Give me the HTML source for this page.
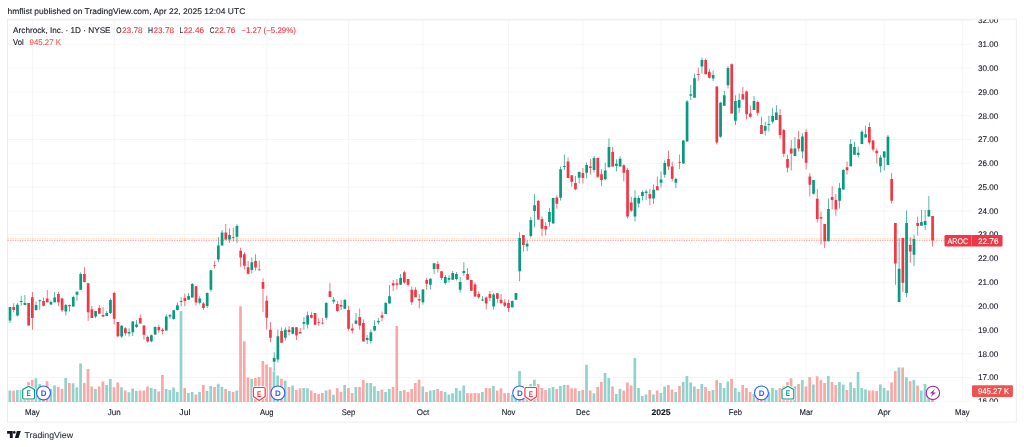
<!DOCTYPE html>
<html><head><meta charset="utf-8"><title>AROC chart</title>
<style>html,body{margin:0;padding:0;background:#fff}body{width:1024px;height:447px;overflow:hidden}</style></head>
<body>
<svg width="1024" height="447" viewBox="0 0 1024 447" style="display:block;will-change:transform">
<rect width="1024" height="447" fill="#fff"/>
<path d="M7.5 401.30H971.4 M7.5 377.50H971.4 M7.5 353.70H971.4 M7.5 329.90H971.4 M7.5 306.10H971.4 M7.5 282.30H971.4 M7.5 258.50H971.4 M7.5 234.70H971.4 M7.5 210.90H971.4 M7.5 187.10H971.4 M7.5 163.30H971.4 M7.5 139.50H971.4 M7.5 115.70H971.4 M7.5 91.90H971.4 M7.5 68.10H971.4 M7.5 44.30H971.4 M7.5 20.50H971.4 M32.35 19.2V402.0 M114.19 19.2V402.0 M184.87 19.2V402.0 M266.71 19.2V402.0 M348.55 19.2V402.0 M422.95 19.2V402.0 M508.51 19.2V402.0 M582.91 19.2V402.0 M661.03 19.2V402.0 M735.43 19.2V402.0 M806.11 19.2V402.0 M884.23 19.2V402.0 M962.35 19.2V402.0" stroke="#f2f2f3" stroke-width="0.8" fill="none"/>
<rect x="7.5" y="19.2" width="1008.75" height="402.90000000000003" fill="none" stroke="#e9e9ea" stroke-width="0.8"/>
<path d="M8.53 390.38h2.7V402.00h-2.7z M15.97 390.00h2.7V402.00h-2.7z M19.69 390.00h2.7V402.00h-2.7z M23.41 389.75h2.7V402.00h-2.7z M34.57 378.25h2.7V402.00h-2.7z M38.29 384.12h2.7V402.00h-2.7z M49.45 389.12h2.7V402.00h-2.7z M53.17 385.38h2.7V402.00h-2.7z M64.33 377.88h2.7V402.00h-2.7z M71.77 383.25h2.7V402.00h-2.7z M75.49 387.25h2.7V402.00h-2.7z M79.21 363.50h2.7V402.00h-2.7z M94.09 389.12h2.7V402.00h-2.7z M105.25 385.12h2.7V402.00h-2.7z M108.97 378.88h2.7V402.00h-2.7z M120.13 387.25h2.7V402.00h-2.7z M127.57 392.25h2.7V402.00h-2.7z M131.29 388.50h2.7V402.00h-2.7z M135.01 391.00h2.7V402.00h-2.7z M149.89 387.88h2.7V402.00h-2.7z M153.61 388.88h2.7V402.00h-2.7z M164.77 389.12h2.7V402.00h-2.7z M168.49 390.00h2.7V402.00h-2.7z M172.21 387.62h2.7V402.00h-2.7z M175.93 392.00h2.7V402.00h-2.7z M179.65 311.00h2.7V402.00h-2.7z M187.09 392.88h2.7V402.00h-2.7z M190.81 391.88h2.7V402.00h-2.7z M198.25 391.88h2.7V402.00h-2.7z M205.69 391.00h2.7V402.00h-2.7z M209.41 386.00h2.7V402.00h-2.7z M216.85 383.75h2.7V402.00h-2.7z M220.57 387.00h2.7V402.00h-2.7z M228.01 391.00h2.7V402.00h-2.7z M235.45 390.38h2.7V402.00h-2.7z M250.33 378.75h2.7V402.00h-2.7z M272.65 371.62h2.7V402.00h-2.7z M276.37 375.38h2.7V402.00h-2.7z M283.81 380.38h2.7V402.00h-2.7z M291.25 385.38h2.7V402.00h-2.7z M302.41 387.88h2.7V402.00h-2.7z M306.13 388.25h2.7V402.00h-2.7z M324.73 390.38h2.7V402.00h-2.7z M332.17 394.75h2.7V402.00h-2.7z M343.33 385.00h2.7V402.00h-2.7z M354.49 387.00h2.7V402.00h-2.7z M365.65 383.12h2.7V402.00h-2.7z M369.37 383.12h2.7V402.00h-2.7z M373.09 386.25h2.7V402.00h-2.7z M376.81 391.00h2.7V402.00h-2.7z M384.25 391.88h2.7V402.00h-2.7z M387.97 388.88h2.7V402.00h-2.7z M399.13 391.00h2.7V402.00h-2.7z M421.45 386.38h2.7V402.00h-2.7z M428.89 390.38h2.7V402.00h-2.7z M432.61 390.00h2.7V402.00h-2.7z M443.77 392.00h2.7V402.00h-2.7z M447.49 394.50h2.7V402.00h-2.7z M451.21 393.25h2.7V402.00h-2.7z M454.93 387.88h2.7V402.00h-2.7z M458.65 390.75h2.7V402.00h-2.7z M462.37 385.38h2.7V402.00h-2.7z M480.97 392.00h2.7V402.00h-2.7z M492.13 386.00h2.7V402.00h-2.7z M510.73 394.75h2.7V402.00h-2.7z M514.45 393.50h2.7V402.00h-2.7z M518.17 371.00h2.7V402.00h-2.7z M525.61 389.75h2.7V402.00h-2.7z M529.33 384.12h2.7V402.00h-2.7z M533.05 379.75h2.7V402.00h-2.7z M547.93 388.25h2.7V402.00h-2.7z M551.65 387.00h2.7V402.00h-2.7z M559.09 386.00h2.7V402.00h-2.7z M562.81 385.00h2.7V402.00h-2.7z M577.69 391.00h2.7V402.00h-2.7z M585.13 364.75h2.7V402.00h-2.7z M592.57 393.25h2.7V402.00h-2.7z M603.73 372.88h2.7V402.00h-2.7z M607.45 377.88h2.7V402.00h-2.7z M614.89 394.12h2.7V402.00h-2.7z M618.61 389.12h2.7V402.00h-2.7z M633.49 357.88h2.7V402.00h-2.7z M637.21 387.88h2.7V402.00h-2.7z M640.93 396.00h2.7V402.00h-2.7z M644.65 394.38h2.7V402.00h-2.7z M652.09 394.50h2.7V402.00h-2.7z M659.53 392.88h2.7V402.00h-2.7z M663.25 386.38h2.7V402.00h-2.7z M674.41 391.88h2.7V402.00h-2.7z M681.85 382.00h2.7V402.00h-2.7z M685.57 376.00h2.7V402.00h-2.7z M689.29 382.62h2.7V402.00h-2.7z M693.01 386.62h2.7V402.00h-2.7z M700.45 384.12h2.7V402.00h-2.7z M711.61 390.00h2.7V402.00h-2.7z M719.05 383.12h2.7V402.00h-2.7z M722.77 387.88h2.7V402.00h-2.7z M726.49 381.62h2.7V402.00h-2.7z M733.93 388.12h2.7V402.00h-2.7z M737.65 391.88h2.7V402.00h-2.7z M752.53 394.12h2.7V402.00h-2.7z M763.69 389.75h2.7V402.00h-2.7z M767.41 392.25h2.7V402.00h-2.7z M771.13 387.88h2.7V402.00h-2.7z M774.85 390.00h2.7V402.00h-2.7z M793.45 386.62h2.7V402.00h-2.7z M800.89 380.00h2.7V402.00h-2.7z M812.05 384.38h2.7V402.00h-2.7z M826.93 376.00h2.7V402.00h-2.7z M838.09 382.00h2.7V402.00h-2.7z M841.81 384.38h2.7V402.00h-2.7z M849.25 382.25h2.7V402.00h-2.7z M852.97 387.88h2.7V402.00h-2.7z M856.69 372.00h2.7V402.00h-2.7z M860.41 387.88h2.7V402.00h-2.7z M864.13 389.38h2.7V402.00h-2.7z M879.01 384.38h2.7V402.00h-2.7z M882.73 387.88h2.7V402.00h-2.7z M886.45 390.62h2.7V402.00h-2.7z M897.61 367.50h2.7V402.00h-2.7z M905.05 377.25h2.7V402.00h-2.7z M912.49 380.00h2.7V402.00h-2.7z M919.93 390.62h2.7V402.00h-2.7z M923.65 383.88h2.7V402.00h-2.7z M927.37 392.88h2.7V402.00h-2.7z" fill="#92d2cc"/>
<path d="M12.25 390.75h2.7V402.00h-2.7z M27.13 382.25h2.7V402.00h-2.7z M30.85 380.00h2.7V402.00h-2.7z M42.01 388.50h2.7V402.00h-2.7z M45.73 381.25h2.7V402.00h-2.7z M56.89 387.00h2.7V402.00h-2.7z M60.61 389.12h2.7V402.00h-2.7z M68.05 382.88h2.7V402.00h-2.7z M82.93 382.88h2.7V402.00h-2.7z M86.65 369.12h2.7V402.00h-2.7z M90.37 386.62h2.7V402.00h-2.7z M97.81 386.62h2.7V402.00h-2.7z M101.53 381.62h2.7V402.00h-2.7z M112.69 387.25h2.7V402.00h-2.7z M116.41 382.62h2.7V402.00h-2.7z M123.85 390.62h2.7V402.00h-2.7z M138.73 390.38h2.7V402.00h-2.7z M142.45 390.62h2.7V402.00h-2.7z M146.17 386.38h2.7V402.00h-2.7z M157.33 391.62h2.7V402.00h-2.7z M161.05 375.00h2.7V402.00h-2.7z M183.37 388.12h2.7V402.00h-2.7z M194.53 394.50h2.7V402.00h-2.7z M201.97 385.00h2.7V402.00h-2.7z M213.13 387.00h2.7V402.00h-2.7z M224.29 389.12h2.7V402.00h-2.7z M231.73 392.00h2.7V402.00h-2.7z M239.17 306.25h2.7V402.00h-2.7z M242.89 341.25h2.7V402.00h-2.7z M246.61 377.62h2.7V402.00h-2.7z M254.05 378.12h2.7V402.00h-2.7z M257.77 377.00h2.7V402.00h-2.7z M261.49 361.00h2.7V402.00h-2.7z M265.21 364.50h2.7V402.00h-2.7z M268.93 367.25h2.7V402.00h-2.7z M280.09 378.75h2.7V402.00h-2.7z M287.53 387.00h2.7V402.00h-2.7z M294.97 390.00h2.7V402.00h-2.7z M298.69 388.25h2.7V402.00h-2.7z M309.85 390.62h2.7V402.00h-2.7z M313.57 392.88h2.7V402.00h-2.7z M317.29 394.12h2.7V402.00h-2.7z M321.01 392.88h2.7V402.00h-2.7z M328.45 389.38h2.7V402.00h-2.7z M335.89 388.25h2.7V402.00h-2.7z M339.61 391.88h2.7V402.00h-2.7z M347.05 387.88h2.7V402.00h-2.7z M350.77 392.88h2.7V402.00h-2.7z M358.21 387.00h2.7V402.00h-2.7z M361.93 380.00h2.7V402.00h-2.7z M380.53 389.38h2.7V402.00h-2.7z M391.69 387.00h2.7V402.00h-2.7z M395.41 326.00h2.7V402.00h-2.7z M402.85 390.00h2.7V402.00h-2.7z M406.57 391.88h2.7V402.00h-2.7z M410.29 388.88h2.7V402.00h-2.7z M414.01 383.12h2.7V402.00h-2.7z M417.73 379.75h2.7V402.00h-2.7z M425.17 391.88h2.7V402.00h-2.7z M436.33 388.88h2.7V402.00h-2.7z M440.05 391.00h2.7V402.00h-2.7z M466.09 392.88h2.7V402.00h-2.7z M469.81 393.25h2.7V402.00h-2.7z M473.53 392.88h2.7V402.00h-2.7z M477.25 393.25h2.7V402.00h-2.7z M484.69 387.88h2.7V402.00h-2.7z M488.41 388.25h2.7V402.00h-2.7z M495.85 390.62h2.7V402.00h-2.7z M499.57 388.25h2.7V402.00h-2.7z M503.29 393.25h2.7V402.00h-2.7z M507.01 392.88h2.7V402.00h-2.7z M521.89 387.25h2.7V402.00h-2.7z M536.77 384.12h2.7V402.00h-2.7z M540.49 387.88h2.7V402.00h-2.7z M544.21 390.00h2.7V402.00h-2.7z M555.37 388.88h2.7V402.00h-2.7z M566.53 385.00h2.7V402.00h-2.7z M570.25 388.25h2.7V402.00h-2.7z M573.97 388.25h2.7V402.00h-2.7z M581.41 390.00h2.7V402.00h-2.7z M588.85 390.38h2.7V402.00h-2.7z M596.29 387.00h2.7V402.00h-2.7z M600.01 382.00h2.7V402.00h-2.7z M611.17 386.38h2.7V402.00h-2.7z M622.33 390.62h2.7V402.00h-2.7z M626.05 382.62h2.7V402.00h-2.7z M629.77 385.38h2.7V402.00h-2.7z M648.37 390.00h2.7V402.00h-2.7z M655.81 390.62h2.7V402.00h-2.7z M666.97 385.00h2.7V402.00h-2.7z M670.69 389.38h2.7V402.00h-2.7z M678.13 386.00h2.7V402.00h-2.7z M696.73 388.88h2.7V402.00h-2.7z M704.17 387.00h2.7V402.00h-2.7z M707.89 391.00h2.7V402.00h-2.7z M715.33 380.12h2.7V402.00h-2.7z M730.21 378.75h2.7V402.00h-2.7z M741.37 385.00h2.7V402.00h-2.7z M745.09 387.88h2.7V402.00h-2.7z M748.81 392.00h2.7V402.00h-2.7z M756.25 391.00h2.7V402.00h-2.7z M759.97 388.50h2.7V402.00h-2.7z M778.57 387.88h2.7V402.00h-2.7z M782.29 386.25h2.7V402.00h-2.7z M786.01 382.25h2.7V402.00h-2.7z M789.73 378.25h2.7V402.00h-2.7z M797.17 383.88h2.7V402.00h-2.7z M804.61 386.62h2.7V402.00h-2.7z M808.33 377.00h2.7V402.00h-2.7z M815.77 376.25h2.7V402.00h-2.7z M819.49 380.00h2.7V402.00h-2.7z M823.21 382.88h2.7V402.00h-2.7z M830.65 382.00h2.7V402.00h-2.7z M834.37 385.12h2.7V402.00h-2.7z M845.53 390.00h2.7V402.00h-2.7z M867.85 390.62h2.7V402.00h-2.7z M871.57 390.38h2.7V402.00h-2.7z M875.29 391.00h2.7V402.00h-2.7z M890.17 382.62h2.7V402.00h-2.7z M893.89 371.00h2.7V402.00h-2.7z M901.33 367.50h2.7V402.00h-2.7z M908.77 381.25h2.7V402.00h-2.7z M916.21 385.38h2.7V402.00h-2.7z M931.09 391.00h2.7V402.00h-2.7z" fill="#f7a9a7"/>
<path d="M7.5 238.9H971.4" stroke="#fb8c00" stroke-width="1.7" stroke-dasharray="1.55 0.9" opacity="0.24" fill="none"/>
<path d="M7.5 240.45H971.4" stroke="#f23645" stroke-width="1.1" stroke-dasharray="1.3 1.15" opacity="0.42" fill="none"/>
<path d="M9.63 307.00h0.8V322.90h-0.8z M17.07 302.90h0.8V316.60h-0.8z M20.79 295.75h0.8V305.75h-0.8z M24.51 295.10h0.8V305.10h-0.8z M35.67 301.40h0.8V310.75h-0.8z M39.39 299.50h0.8V310.10h-0.8z M50.55 300.40h0.8V304.90h-0.8z M54.27 292.00h0.8V302.60h-0.8z M65.43 304.00h0.8V315.40h-0.8z M72.87 295.75h0.8V306.40h-0.8z M76.59 291.40h0.8V300.75h-0.8z M80.31 272.25h0.8V289.75h-0.8z M95.19 310.75h0.8V318.25h-0.8z M106.35 311.00h0.8V316.25h-0.8z M110.07 298.25h0.8V314.10h-0.8z M121.23 325.00h0.8V337.90h-0.8z M128.67 328.25h0.8V336.60h-0.8z M132.39 321.00h0.8V336.00h-0.8z M136.11 320.00h0.8V328.10h-0.8z M150.99 334.40h0.8V342.25h-0.8z M154.71 326.25h0.8V334.75h-0.8z M165.87 314.40h0.8V330.60h-0.8z M169.59 313.75h0.8V318.75h-0.8z M173.31 310.00h0.8V319.75h-0.8z M177.03 302.50h0.8V310.60h-0.8z M180.75 297.25h0.8V306.25h-0.8z M188.19 293.10h0.8V300.00h-0.8z M191.91 283.10h0.8V297.50h-0.8z M199.35 296.25h0.8V304.40h-0.8z M206.79 292.50h0.8V307.90h-0.8z M210.51 270.00h0.8V291.50h-0.8z M217.95 237.10h0.8V262.10h-0.8z M221.67 230.00h0.8V245.50h-0.8z M229.11 228.40h0.8V242.75h-0.8z M236.55 224.25h0.8V243.00h-0.8z M251.43 257.30h0.8V273.50h-0.8z M273.75 352.30h0.8V371.00h-0.8z M277.47 329.40h0.8V362.50h-0.8z M284.91 327.25h0.8V340.60h-0.8z M292.35 327.25h0.8V334.40h-0.8z M303.51 317.25h0.8V329.40h-0.8z M307.23 311.50h0.8V328.50h-0.8z M325.83 302.00h0.8V319.40h-0.8z M333.27 297.00h0.8V303.50h-0.8z M344.43 299.50h0.8V309.10h-0.8z M355.59 313.10h0.8V324.40h-0.8z M366.75 335.00h0.8V344.00h-0.8z M370.47 329.40h0.8V343.50h-0.8z M374.19 320.25h0.8V331.25h-0.8z M377.91 318.10h0.8V324.40h-0.8z M385.35 302.00h0.8V314.00h-0.8z M389.07 285.00h0.8V303.50h-0.8z M400.23 274.10h0.8V284.75h-0.8z M422.55 289.10h0.8V304.50h-0.8z M429.99 278.25h0.8V289.50h-0.8z M433.71 263.25h0.8V274.10h-0.8z M444.87 275.00h0.8V284.75h-0.8z M448.59 275.40h0.8V282.50h-0.8z M452.31 271.00h0.8V279.75h-0.8z M456.03 272.00h0.8V280.40h-0.8z M459.75 277.25h0.8V292.60h-0.8z M463.47 262.25h0.8V275.75h-0.8z M482.07 296.25h0.8V301.00h-0.8z M493.23 292.90h0.8V309.50h-0.8z M511.83 300.40h0.8V307.50h-0.8z M515.55 292.90h0.8V299.75h-0.8z M519.27 232.25h0.8V281.25h-0.8z M526.71 240.60h0.8V251.00h-0.8z M530.43 216.90h0.8V237.50h-0.8z M534.15 194.00h0.8V227.25h-0.8z M549.03 208.10h0.8V226.60h-0.8z M552.75 197.75h0.8V223.40h-0.8z M560.19 166.50h0.8V200.50h-0.8z M563.91 154.50h0.8V170.25h-0.8z M578.79 171.50h0.8V183.60h-0.8z M586.23 162.40h0.8V178.60h-0.8z M593.67 156.10h0.8V172.40h-0.8z M604.83 162.75h0.8V180.50h-0.8z M608.55 138.50h0.8V167.30h-0.8z M615.99 159.30h0.8V171.60h-0.8z M619.71 156.20h0.8V166.60h-0.8z M634.59 190.25h0.8V221.50h-0.8z M638.31 195.50h0.8V207.50h-0.8z M642.03 190.60h0.8V200.60h-0.8z M645.75 189.40h0.8V200.00h-0.8z M653.19 184.40h0.8V203.75h-0.8z M660.63 171.50h0.8V187.50h-0.8z M664.35 160.25h0.8V177.75h-0.8z M675.51 177.75h0.8V188.10h-0.8z M682.95 140.00h0.8V163.50h-0.8z M686.67 100.00h0.8V141.60h-0.8z M690.39 84.90h0.8V99.90h-0.8z M694.11 73.60h0.8V97.75h-0.8z M701.55 57.40h0.8V73.60h-0.8z M712.71 70.50h0.8V81.10h-0.8z M720.15 101.75h0.8V137.75h-0.8z M723.87 91.10h0.8V105.75h-0.8z M727.59 66.10h0.8V88.60h-0.8z M735.03 95.25h0.8V124.90h-0.8z M738.75 93.60h0.8V112.75h-0.8z M753.63 96.10h0.8V109.90h-0.8z M764.79 121.75h0.8V135.50h-0.8z M768.51 116.10h0.8V131.50h-0.8z M772.23 108.25h0.8V123.60h-0.8z M775.95 105.25h0.8V119.90h-0.8z M794.55 137.00h0.8V156.00h-0.8z M801.99 133.25h0.8V158.50h-0.8z M813.15 180.00h0.8V194.40h-0.8z M828.03 198.50h0.8V241.25h-0.8z M839.19 183.10h0.8V208.50h-0.8z M842.91 169.00h0.8V189.40h-0.8z M850.35 139.25h0.8V166.25h-0.8z M854.07 141.75h0.8V154.75h-0.8z M857.79 146.75h0.8V157.50h-0.8z M861.51 130.25h0.8V144.00h-0.8z M865.23 125.75h0.8V137.40h-0.8z M880.11 155.00h0.8V172.50h-0.8z M883.83 151.00h0.8V170.60h-0.8z M887.55 134.90h0.8V165.00h-0.8z M898.71 237.90h0.8V302.25h-0.8z M906.15 210.40h0.8V297.25h-0.8z M913.59 234.75h0.8V266.25h-0.8z M921.03 210.00h0.8V225.75h-0.8z M924.75 210.00h0.8V230.00h-0.8z M928.47 196.00h0.8V216.60h-0.8z" fill="#089981" opacity="0.85"/>
<path d="M8.68 307.00h2.7V320.40h-2.7z M16.12 304.75h2.7V315.40h-2.7z M19.84 301.00h2.7V302.00h-2.7z M23.56 303.00h2.7V305.10h-2.7z M34.72 305.10h2.7V310.10h-2.7z M38.44 300.25h2.7V301.15h-2.7z M49.60 302.00h2.7V304.60h-2.7z M53.32 297.40h2.7V302.25h-2.7z M64.48 305.10h2.7V311.50h-2.7z M71.92 297.00h2.7V306.40h-2.7z M75.64 291.75h2.7V294.75h-2.7z M79.36 273.90h2.7V289.75h-2.7z M94.24 311.00h2.7V316.60h-2.7z M105.40 312.90h2.7V316.00h-2.7z M109.12 300.00h2.7V312.90h-2.7z M120.28 325.75h2.7V336.60h-2.7z M127.72 332.00h2.7V333.50h-2.7z M131.44 321.60h2.7V332.25h-2.7z M135.16 324.40h2.7V326.90h-2.7z M150.04 335.25h2.7V341.25h-2.7z M153.76 327.10h2.7V334.40h-2.7z M164.92 316.50h2.7V330.60h-2.7z M168.64 315.00h2.7V316.50h-2.7z M172.36 310.25h2.7V319.00h-2.7z M176.08 305.25h2.7V310.00h-2.7z M179.80 301.00h2.7V301.90h-2.7z M187.24 296.00h2.7V299.75h-2.7z M190.96 284.00h2.7V297.50h-2.7z M198.40 298.50h2.7V302.75h-2.7z M205.84 293.10h2.7V306.00h-2.7z M209.56 270.25h2.7V289.75h-2.7z M217.00 245.50h2.7V259.60h-2.7z M220.72 232.50h2.7V245.50h-2.7z M228.16 235.00h2.7V239.60h-2.7z M235.60 225.90h2.7V236.75h-2.7z M250.48 262.20h2.7V270.00h-2.7z M272.80 357.90h2.7V361.80h-2.7z M276.52 336.25h2.7V359.60h-2.7z M283.96 329.75h2.7V337.75h-2.7z M291.40 327.25h2.7V333.75h-2.7z M302.56 321.90h2.7V323.75h-2.7z M306.28 315.25h2.7V324.40h-2.7z M324.88 302.90h2.7V317.75h-2.7z M332.32 299.75h2.7V301.60h-2.7z M343.48 299.75h2.7V308.75h-2.7z M354.64 320.60h2.7V323.75h-2.7z M365.80 338.10h2.7V340.00h-2.7z M369.52 332.25h2.7V341.00h-2.7z M373.24 326.00h2.7V330.60h-2.7z M376.96 321.00h2.7V322.25h-2.7z M384.40 302.90h2.7V314.00h-2.7z M388.12 296.25h2.7V303.50h-2.7z M399.28 277.90h2.7V284.75h-2.7z M421.60 289.50h2.7V302.25h-2.7z M429.04 278.75h2.7V284.75h-2.7z M432.76 263.25h2.7V268.90h-2.7z M443.92 277.00h2.7V282.90h-2.7z M447.64 277.90h2.7V279.75h-2.7z M451.36 272.90h2.7V279.75h-2.7z M455.08 274.10h2.7V278.90h-2.7z M458.80 282.00h2.7V289.75h-2.7z M462.52 271.00h2.7V272.90h-2.7z M481.12 299.50h2.7V300.60h-2.7z M492.28 294.50h2.7V306.40h-2.7z M510.88 301.00h2.7V307.25h-2.7z M514.60 292.90h2.7V299.75h-2.7z M518.32 238.10h2.7V271.25h-2.7z M525.76 243.75h2.7V246.50h-2.7z M529.48 220.00h2.7V235.90h-2.7z M533.20 205.25h2.7V211.00h-2.7z M548.08 211.90h2.7V221.90h-2.7z M551.80 198.00h2.7V223.40h-2.7z M559.24 169.25h2.7V197.75h-2.7z M562.96 166.10h2.7V167.00h-2.7z M577.84 172.00h2.7V177.75h-2.7z M585.28 164.90h2.7V172.75h-2.7z M592.72 158.00h2.7V169.90h-2.7z M603.88 170.50h2.7V179.25h-2.7z M607.60 146.90h2.7V167.30h-2.7z M615.04 163.70h2.7V166.00h-2.7z M618.76 158.70h2.7V166.60h-2.7z M633.64 197.75h2.7V216.50h-2.7z M637.36 198.00h2.7V203.50h-2.7z M641.08 191.90h2.7V196.00h-2.7z M644.80 191.60h2.7V193.10h-2.7z M652.24 189.75h2.7V198.50h-2.7z M659.68 179.40h2.7V182.75h-2.7z M663.40 163.10h2.7V174.75h-2.7z M674.56 179.00h2.7V182.75h-2.7z M682.00 140.50h2.7V163.50h-2.7z M685.72 101.50h2.7V141.60h-2.7z M689.44 94.25h2.7V95.75h-2.7z M693.16 78.25h2.7V97.75h-2.7z M700.60 59.90h2.7V66.50h-2.7z M711.76 74.90h2.7V78.60h-2.7z M719.20 102.75h2.7V136.75h-2.7z M722.92 95.25h2.7V105.75h-2.7z M726.64 68.00h2.7V85.25h-2.7z M734.08 101.10h2.7V120.75h-2.7z M737.80 99.90h2.7V107.75h-2.7z M752.68 101.10h2.7V109.90h-2.7z M763.84 126.10h2.7V130.75h-2.7z M767.56 124.00h2.7V124.90h-2.7z M771.28 116.10h2.7V121.75h-2.7z M775.00 112.40h2.7V119.90h-2.7z M793.60 148.40h2.7V156.00h-2.7z M801.04 136.50h2.7V151.50h-2.7z M812.20 180.00h2.7V193.75h-2.7z M827.08 209.10h2.7V241.25h-2.7z M838.24 188.10h2.7V200.70h-2.7z M841.96 170.00h2.7V189.40h-2.7z M849.40 144.00h2.7V166.25h-2.7z M853.12 147.00h2.7V154.75h-2.7z M856.84 152.75h2.7V155.00h-2.7z M860.56 131.75h2.7V144.00h-2.7z M864.28 134.25h2.7V137.40h-2.7z M879.16 157.50h2.7V166.25h-2.7z M882.88 151.60h2.7V157.50h-2.7z M886.60 136.75h2.7V165.00h-2.7z M897.76 268.75h2.7V301.90h-2.7z M905.20 222.90h2.7V293.10h-2.7z M912.64 239.10h2.7V254.75h-2.7z M920.08 221.90h2.7V225.75h-2.7z M923.80 221.00h2.7V225.00h-2.7z M927.52 210.00h2.7V216.60h-2.7z" fill="#089981"/>
<path d="M13.35 303.20h0.8V312.50h-0.8z M28.23 303.00h0.8V325.60h-0.8z M31.95 292.00h0.8V329.75h-0.8z M43.11 297.60h0.8V306.40h-0.8z M46.83 290.10h0.8V302.60h-0.8z M57.99 291.75h0.8V305.75h-0.8z M61.71 297.60h0.8V312.00h-0.8z M69.15 304.50h0.8V311.50h-0.8z M84.03 267.25h0.8V282.25h-0.8z M87.75 283.25h0.8V321.00h-0.8z M91.47 306.00h0.8V317.90h-0.8z M98.91 305.00h0.8V313.75h-0.8z M102.63 307.00h0.8V317.00h-0.8z M113.79 291.75h0.8V324.50h-0.8z M117.51 322.00h0.8V337.50h-0.8z M124.95 327.25h0.8V335.75h-0.8z M139.83 314.40h0.8V323.50h-0.8z M143.55 325.00h0.8V339.40h-0.8z M147.27 335.60h0.8V342.50h-0.8z M158.43 324.75h0.8V332.50h-0.8z M162.15 327.90h0.8V334.40h-0.8z M184.47 293.50h0.8V306.25h-0.8z M195.63 285.90h0.8V305.60h-0.8z M203.07 302.10h0.8V310.00h-0.8z M214.23 260.70h0.8V268.50h-0.8z M225.39 224.00h0.8V240.25h-0.8z M232.83 227.75h0.8V241.75h-0.8z M240.27 247.75h0.8V266.70h-0.8z M243.99 252.20h0.8V269.40h-0.8z M247.71 261.10h0.8V274.40h-0.8z M255.15 254.30h0.8V270.60h-0.8z M258.87 260.50h0.8V270.60h-0.8z M262.59 278.25h0.8V312.00h-0.8z M266.31 295.75h0.8V329.40h-0.8z M270.03 321.90h0.8V342.25h-0.8z M281.19 327.50h0.8V342.75h-0.8z M288.63 326.25h0.8V335.60h-0.8z M296.07 326.90h0.8V340.00h-0.8z M299.79 328.10h0.8V333.75h-0.8z M310.95 312.25h0.8V318.50h-0.8z M314.67 313.10h0.8V325.25h-0.8z M318.39 318.50h0.8V326.00h-0.8z M322.11 318.10h0.8V324.40h-0.8z M329.55 282.90h0.8V297.00h-0.8z M336.99 301.00h0.8V311.80h-0.8z M340.71 299.75h0.8V310.00h-0.8z M348.15 305.75h0.8V330.60h-0.8z M351.87 323.50h0.8V333.50h-0.8z M359.31 308.50h0.8V329.75h-0.8z M363.03 319.40h0.8V341.50h-0.8z M381.63 311.50h0.8V321.50h-0.8z M392.79 280.00h0.8V291.00h-0.8z M396.51 279.10h0.8V289.50h-0.8z M403.95 270.40h0.8V283.75h-0.8z M407.67 278.90h0.8V286.60h-0.8z M411.39 286.60h0.8V305.00h-0.8z M415.11 287.25h0.8V297.25h-0.8z M418.83 294.10h0.8V308.50h-0.8z M426.27 277.90h0.8V289.50h-0.8z M437.43 261.25h0.8V272.50h-0.8z M441.15 271.25h0.8V280.10h-0.8z M467.19 268.10h0.8V279.75h-0.8z M470.91 280.00h0.8V290.75h-0.8z M474.63 282.50h0.8V296.60h-0.8z M478.35 291.60h0.8V298.75h-0.8z M485.79 296.60h0.8V309.50h-0.8z M489.51 291.00h0.8V301.00h-0.8z M496.95 293.25h0.8V302.90h-0.8z M500.67 294.10h0.8V304.10h-0.8z M504.39 299.10h0.8V307.25h-0.8z M508.11 299.75h0.8V311.90h-0.8z M522.99 235.00h0.8V251.50h-0.8z M537.87 199.90h0.8V220.00h-0.8z M541.59 216.50h0.8V236.25h-0.8z M545.31 222.25h0.8V235.60h-0.8z M556.47 195.25h0.8V208.75h-0.8z M567.63 157.40h0.8V178.00h-0.8z M571.35 175.25h0.8V186.50h-0.8z M575.07 176.10h0.8V190.25h-0.8z M582.51 168.00h0.8V183.60h-0.8z M589.95 159.00h0.8V174.50h-0.8z M597.39 157.40h0.8V178.00h-0.8z M601.11 169.00h0.8V185.90h-0.8z M612.27 146.90h0.8V166.60h-0.8z M623.43 164.25h0.8V181.50h-0.8z M627.15 168.00h0.8V218.50h-0.8z M630.87 197.00h0.8V211.90h-0.8z M649.47 189.00h0.8V205.00h-0.8z M656.91 176.50h0.8V190.25h-0.8z M668.07 150.60h0.8V170.00h-0.8z M671.79 161.40h0.8V181.50h-0.8z M679.23 154.40h0.8V169.00h-0.8z M697.83 67.75h0.8V80.75h-0.8z M705.27 58.60h0.8V74.25h-0.8z M708.99 69.00h0.8V78.60h-0.8z M716.43 86.50h0.8V144.50h-0.8z M731.31 63.60h0.8V113.60h-0.8z M742.47 87.00h0.8V99.40h-0.8z M746.19 90.50h0.8V119.50h-0.8z M749.91 105.50h0.8V118.25h-0.8z M757.35 100.40h0.8V115.75h-0.8z M761.07 116.75h0.8V134.00h-0.8z M779.67 109.00h0.8V138.60h-0.8z M783.39 129.00h0.8V156.90h-0.8z M787.11 154.75h0.8V172.50h-0.8z M790.83 139.90h0.8V170.60h-0.8z M798.27 131.10h0.8V151.50h-0.8z M805.71 129.25h0.8V169.40h-0.8z M809.43 173.10h0.8V196.50h-0.8z M816.87 189.00h0.8V222.50h-0.8z M820.59 211.60h0.8V244.75h-0.8z M824.31 224.10h0.8V247.90h-0.8z M831.75 186.25h0.8V209.50h-0.8z M835.47 194.00h0.8V215.75h-0.8z M846.63 161.50h0.8V174.40h-0.8z M868.95 122.40h0.8V144.50h-0.8z M872.67 139.90h0.8V151.50h-0.8z M876.39 148.60h0.8V163.50h-0.8z M891.27 173.10h0.8V203.75h-0.8z M894.99 222.90h0.8V284.75h-0.8z M902.43 237.90h0.8V291.90h-0.8z M909.87 237.25h0.8V262.75h-0.8z M917.31 216.60h0.8V235.40h-0.8z M932.19 216.00h0.8V246.60h-0.8z" fill="#f23645" opacity="0.85"/>
<path d="M12.40 307.00h2.7V310.10h-2.7z M27.28 303.00h2.7V325.60h-2.7z M31.00 297.25h2.7V317.90h-2.7z M42.16 301.00h2.7V305.75h-2.7z M45.88 298.60h2.7V302.25h-2.7z M57.04 294.10h2.7V302.25h-2.7z M60.76 298.40h2.7V310.25h-2.7z M68.20 305.10h2.7V306.30h-2.7z M83.08 274.10h2.7V282.00h-2.7z M86.80 283.25h2.7V312.25h-2.7z M90.52 309.20h2.7V317.90h-2.7z M97.96 308.10h2.7V313.75h-2.7z M101.68 315.00h2.7V316.60h-2.7z M112.84 293.00h2.7V318.75h-2.7z M116.56 322.00h2.7V336.25h-2.7z M124.00 328.25h2.7V333.25h-2.7z M138.88 318.10h2.7V323.50h-2.7z M142.60 325.60h2.7V334.75h-2.7z M146.32 336.90h2.7V341.50h-2.7z M157.48 326.90h2.7V330.25h-2.7z M161.20 329.75h2.7V331.00h-2.7z M183.52 298.10h2.7V301.00h-2.7z M194.68 286.25h2.7V302.60h-2.7z M202.12 303.50h2.7V307.90h-2.7z M213.28 264.93h2.7V265.82h-2.7z M224.44 232.50h2.7V239.60h-2.7z M231.88 236.88h2.7V237.77h-2.7z M239.32 250.80h2.7V257.60h-2.7z M243.04 254.30h2.7V265.75h-2.7z M246.76 267.25h2.7V273.75h-2.7z M254.20 261.00h2.7V267.50h-2.7z M257.92 269.38h2.7V270.27h-2.7z M261.64 282.00h2.7V288.75h-2.7z M265.36 300.75h2.7V317.75h-2.7z M269.08 329.75h2.7V337.75h-2.7z M280.24 331.00h2.7V342.75h-2.7z M287.68 329.75h2.7V331.90h-2.7z M295.12 327.25h2.7V335.60h-2.7z M298.84 331.90h2.7V333.40h-2.7z M310.00 315.00h2.7V317.75h-2.7z M313.72 313.10h2.7V324.75h-2.7z M317.44 322.23h2.7V323.12h-2.7z M321.16 322.68h2.7V323.57h-2.7z M328.60 291.25h2.7V297.00h-2.7z M336.04 304.10h2.7V311.00h-2.7z M339.76 305.00h2.7V306.40h-2.7z M347.20 310.00h2.7V328.75h-2.7z M350.92 328.50h2.7V330.60h-2.7z M358.36 316.90h2.7V325.60h-2.7z M362.08 323.10h2.7V341.50h-2.7z M380.68 315.25h2.7V317.75h-2.7z M391.84 283.25h2.7V285.40h-2.7z M395.56 283.25h2.7V284.75h-2.7z M403.00 272.25h2.7V282.50h-2.7z M406.72 278.90h2.7V284.75h-2.7z M410.44 289.75h2.7V302.25h-2.7z M414.16 289.75h2.7V297.25h-2.7z M417.88 299.10h2.7V300.60h-2.7z M425.32 280.10h2.7V283.75h-2.7z M436.48 263.90h2.7V268.90h-2.7z M440.20 271.25h2.7V277.90h-2.7z M466.24 274.10h2.7V279.75h-2.7z M469.96 280.00h2.7V290.75h-2.7z M473.68 284.50h2.7V296.60h-2.7z M477.40 293.90h2.7V297.25h-2.7z M484.84 297.60h2.7V303.50h-2.7z M488.56 293.90h2.7V297.90h-2.7z M496.00 293.25h2.7V298.75h-2.7z M499.72 299.75h2.7V302.90h-2.7z M503.44 302.50h2.7V305.75h-2.7z M507.16 302.90h2.7V307.90h-2.7z M522.04 235.00h2.7V245.00h-2.7z M536.92 201.10h2.7V219.40h-2.7z M540.64 219.00h2.7V228.75h-2.7z M544.36 226.00h2.7V229.60h-2.7z M555.52 197.40h2.7V203.75h-2.7z M566.68 161.50h2.7V178.00h-2.7z M570.40 175.25h2.7V181.75h-2.7z M574.12 183.00h2.7V189.25h-2.7z M581.56 173.00h2.7V178.00h-2.7z M589.00 166.50h2.7V168.00h-2.7z M596.44 158.00h2.7V176.75h-2.7z M600.16 174.25h2.7V179.90h-2.7z M611.32 151.90h2.7V166.60h-2.7z M622.48 165.25h2.7V172.75h-2.7z M626.20 169.90h2.7V216.50h-2.7z M629.92 202.50h2.7V210.60h-2.7z M648.52 194.00h2.7V198.50h-2.7z M655.96 186.25h2.7V190.25h-2.7z M667.12 158.90h2.7V166.50h-2.7z M670.84 166.40h2.7V178.75h-2.7z M678.28 161.88h2.7V162.77h-2.7z M696.88 73.90h2.7V74.90h-2.7z M704.32 59.90h2.7V74.25h-2.7z M708.04 71.75h2.7V77.75h-2.7z M715.48 86.50h2.7V142.40h-2.7z M730.36 64.25h2.7V113.60h-2.7z M741.52 94.25h2.7V99.40h-2.7z M745.24 91.50h2.7V114.25h-2.7z M748.96 113.60h2.7V116.75h-2.7z M756.40 102.00h2.7V112.75h-2.7z M760.12 124.90h2.7V134.00h-2.7z M778.72 114.90h2.7V134.90h-2.7z M782.44 129.90h2.7V153.75h-2.7z M786.16 159.00h2.7V167.75h-2.7z M789.88 148.40h2.7V153.50h-2.7z M797.32 139.25h2.7V148.60h-2.7z M804.76 132.00h2.7V162.75h-2.7z M808.48 176.50h2.7V184.75h-2.7z M815.92 198.75h2.7V219.10h-2.7z M819.64 217.00h2.7V218.50h-2.7z M823.36 224.10h2.7V241.25h-2.7z M830.80 196.90h2.7V199.90h-2.7z M834.52 200.00h2.7V209.50h-2.7z M845.68 167.25h2.7V170.25h-2.7z M868.00 127.00h2.7V142.40h-2.7z M871.72 140.50h2.7V149.50h-2.7z M875.44 150.70h2.7V153.30h-2.7z M890.32 179.00h2.7V200.80h-2.7z M894.04 222.90h2.7V263.50h-2.7z M901.48 237.90h2.7V282.75h-2.7z M908.92 245.00h2.7V251.50h-2.7z M916.36 222.90h2.7V226.00h-2.7z M931.24 216.00h2.7V240.40h-2.7z" fill="#f23645"/>
<path d="M28.63 386.2L34.55 389.6V397.7q0 1.3 -1.3 1.3H24.01q-1.3 0 -1.3 -1.3V389.6Z" fill="#fff" stroke="#fff" stroke-width="2.6" stroke-linejoin="round"/><path d="M28.63 386.2L34.55 389.6V397.7q0 1.3 -1.3 1.3H24.01q-1.3 0 -1.3 -1.3V389.6Z" fill="#fff" stroke="#089981" stroke-width="1.15" stroke-linejoin="round"/><text x="28.63" y="396.0" text-anchor="middle" font-family="Liberation Sans, Arial, sans-serif" text-rendering="geometricPrecision" font-weight="bold" font-size="8.3" fill="#089981" textLength="4.3" lengthAdjust="spacingAndGlyphs">E</text>
<circle cx="43.51" cy="392.9" r="6.95" fill="#fff" stroke="#2962ff" stroke-width="1.1"/><text x="43.61" y="395.75" text-anchor="middle" font-family="Liberation Sans, Arial, sans-serif" text-rendering="geometricPrecision" font-weight="bold" font-size="8" fill="#2962ff">D</text>
<path d="M259.27 400.5L265.19 396.6V388.8q0 -1.3 -1.3 -1.3H254.65q-1.3 0 -1.3 1.3V396.6Z" fill="#fff" stroke="#fff" stroke-width="2.6" stroke-linejoin="round"/><path d="M259.27 400.5L265.19 396.6V388.8q0 -1.3 -1.3 -1.3H254.65q-1.3 0 -1.3 1.3V396.6Z" fill="#fff" stroke="#f23645" stroke-width="1.15" stroke-linejoin="round"/><text x="259.27" y="396.5" text-anchor="middle" font-family="Liberation Sans, Arial, sans-serif" text-rendering="geometricPrecision" font-weight="bold" font-size="8.3" fill="#f23645" textLength="4.3" lengthAdjust="spacingAndGlyphs">E</text>
<circle cx="277.87" cy="392.9" r="6.95" fill="#fff" stroke="#2962ff" stroke-width="1.1"/><text x="277.97" y="395.75" text-anchor="middle" font-family="Liberation Sans, Arial, sans-serif" text-rendering="geometricPrecision" font-weight="bold" font-size="8" fill="#2962ff">D</text>
<circle cx="519.67" cy="392.9" r="6.95" fill="#fff" stroke="#2962ff" stroke-width="1.1"/><text x="519.77" y="395.75" text-anchor="middle" font-family="Liberation Sans, Arial, sans-serif" text-rendering="geometricPrecision" font-weight="bold" font-size="8" fill="#2962ff">D</text>
<path d="M530.83 400.5L536.75 396.6V388.8q0 -1.3 -1.3 -1.3H526.21q-1.3 0 -1.3 1.3V396.6Z" fill="#fff" stroke="#fff" stroke-width="2.6" stroke-linejoin="round"/><path d="M530.83 400.5L536.75 396.6V388.8q0 -1.3 -1.3 -1.3H526.21q-1.3 0 -1.3 1.3V396.6Z" fill="#fff" stroke="#f23645" stroke-width="1.15" stroke-linejoin="round"/><text x="530.83" y="396.5" text-anchor="middle" font-family="Liberation Sans, Arial, sans-serif" text-rendering="geometricPrecision" font-weight="bold" font-size="8.3" fill="#f23645" textLength="4.3" lengthAdjust="spacingAndGlyphs">E</text>
<circle cx="761.47" cy="392.9" r="6.95" fill="#fff" stroke="#2962ff" stroke-width="1.1"/><text x="761.57" y="395.75" text-anchor="middle" font-family="Liberation Sans, Arial, sans-serif" text-rendering="geometricPrecision" font-weight="bold" font-size="8" fill="#2962ff">D</text>
<path d="M787.88 386.2L793.80 389.6V397.7q0 1.3 -1.3 1.3H783.26q-1.3 0 -1.3 -1.3V389.6Z" fill="#fff" stroke="#fff" stroke-width="2.6" stroke-linejoin="round"/><path d="M787.88 386.2L793.80 389.6V397.7q0 1.3 -1.3 1.3H783.26q-1.3 0 -1.3 -1.3V389.6Z" fill="#fff" stroke="#089981" stroke-width="1.15" stroke-linejoin="round"/><text x="787.88" y="396.0" text-anchor="middle" font-family="Liberation Sans, Arial, sans-serif" text-rendering="geometricPrecision" font-weight="bold" font-size="8.3" fill="#089981" textLength="4.3" lengthAdjust="spacingAndGlyphs">E</text>
<circle cx="932.89" cy="392.9" r="6.7" fill="#fff" stroke="#9c27b0" stroke-width="1.1"/>
<path transform="translate(932.89 392.9)" d="M1.9 -3.85L-3.05 0.6L-0.2 0.5L-2.1 3.9L3.05 -0.45L0.3 -0.3Z" fill="#9c27b0"/>
<text x="7.50" y="14.05" font-family="Liberation Sans, Arial, sans-serif" text-rendering="geometricPrecision" font-size="8.2" fill="#131722" stroke="#131722" stroke-width="0.1" textLength="237.75" lengthAdjust="spacingAndGlyphs">hmflist published on TradingView.com, Apr 22, 2025 12:04 UTC</text>
<text x="13.10" y="33.30" font-family="Liberation Sans, Arial, sans-serif" text-rendering="geometricPrecision" font-size="8.2" fill="#131722" stroke="#131722" stroke-width="0.1" textLength="97.50" lengthAdjust="spacingAndGlyphs">Archrock, Inc. · 1D · NYSE</text>
<text x="116.25" y="33.30" font-family="Liberation Sans, Arial, sans-serif" text-rendering="geometricPrecision" font-size="8.2" fill="#131722" stroke="#131722" stroke-width="0.1" textLength="5.30" lengthAdjust="spacingAndGlyphs">O</text>
<text x="121.90" y="33.30" font-family="Liberation Sans, Arial, sans-serif" text-rendering="geometricPrecision" font-size="8.2" fill="#f23645" stroke="#f23645" stroke-width="0.1" textLength="20.85" lengthAdjust="spacingAndGlyphs">23.78</text>
<text x="148.10" y="33.30" font-family="Liberation Sans, Arial, sans-serif" text-rendering="geometricPrecision" font-size="8.2" fill="#131722" stroke="#131722" stroke-width="0.1" textLength="5.00" lengthAdjust="spacingAndGlyphs">H</text>
<text x="153.50" y="33.30" font-family="Liberation Sans, Arial, sans-serif" text-rendering="geometricPrecision" font-size="8.2" fill="#f23645" stroke="#f23645" stroke-width="0.1" textLength="20.50" lengthAdjust="spacingAndGlyphs">23.78</text>
<text x="179.60" y="33.30" font-family="Liberation Sans, Arial, sans-serif" text-rendering="geometricPrecision" font-size="8.2" fill="#131722" stroke="#131722" stroke-width="0.1" textLength="3.60" lengthAdjust="spacingAndGlyphs">L</text>
<text x="183.50" y="33.30" font-family="Liberation Sans, Arial, sans-serif" text-rendering="geometricPrecision" font-size="8.2" fill="#f23645" stroke="#f23645" stroke-width="0.1" textLength="20.50" lengthAdjust="spacingAndGlyphs">22.46</text>
<text x="209.80" y="33.30" font-family="Liberation Sans, Arial, sans-serif" text-rendering="geometricPrecision" font-size="8.2" fill="#131722" stroke="#131722" stroke-width="0.1" textLength="4.60" lengthAdjust="spacingAndGlyphs">C</text>
<text x="214.60" y="33.30" font-family="Liberation Sans, Arial, sans-serif" text-rendering="geometricPrecision" font-size="8.2" fill="#f23645" stroke="#f23645" stroke-width="0.1" textLength="20.80" lengthAdjust="spacingAndGlyphs">22.76</text>
<text x="241.25" y="33.30" font-family="Liberation Sans, Arial, sans-serif" text-rendering="geometricPrecision" font-size="8.2" fill="#f23645" stroke="#f23645" stroke-width="0.1" textLength="54.75" lengthAdjust="spacingAndGlyphs">−1.27 (−5.29%)</text>
<text x="13.10" y="44.90" font-family="Liberation Sans, Arial, sans-serif" text-rendering="geometricPrecision" font-size="8.2" fill="#131722" stroke="#131722" stroke-width="0.1" textLength="10.65" lengthAdjust="spacingAndGlyphs">Vol</text>
<text x="29.60" y="44.90" font-family="Liberation Sans, Arial, sans-serif" text-rendering="geometricPrecision" font-size="8.2" fill="#ef5350" stroke="#ef5350" stroke-width="0.1" textLength="31.30" lengthAdjust="spacingAndGlyphs">945.27 K</text>
<clipPath id="pc"><rect x="971.4" y="19.599999999999998" width="44.85000000000002" height="382.20000000000005"/></clipPath>
<g clip-path="url(#pc)">
<text x="977.90" y="404.25" font-family="Liberation Sans, Arial, sans-serif" text-rendering="geometricPrecision" font-size="8.2" fill="#131722" stroke="#131722" stroke-width="0.1" textLength="20.35" lengthAdjust="spacingAndGlyphs">16.00</text>
<text x="977.90" y="380.45" font-family="Liberation Sans, Arial, sans-serif" text-rendering="geometricPrecision" font-size="8.2" fill="#131722" stroke="#131722" stroke-width="0.1" textLength="20.35" lengthAdjust="spacingAndGlyphs">17.00</text>
<text x="977.90" y="356.65" font-family="Liberation Sans, Arial, sans-serif" text-rendering="geometricPrecision" font-size="8.2" fill="#131722" stroke="#131722" stroke-width="0.1" textLength="20.35" lengthAdjust="spacingAndGlyphs">18.00</text>
<text x="977.90" y="332.85" font-family="Liberation Sans, Arial, sans-serif" text-rendering="geometricPrecision" font-size="8.2" fill="#131722" stroke="#131722" stroke-width="0.1" textLength="20.35" lengthAdjust="spacingAndGlyphs">19.00</text>
<text x="977.90" y="309.05" font-family="Liberation Sans, Arial, sans-serif" text-rendering="geometricPrecision" font-size="8.2" fill="#131722" stroke="#131722" stroke-width="0.1" textLength="20.35" lengthAdjust="spacingAndGlyphs">20.00</text>
<text x="977.90" y="285.25" font-family="Liberation Sans, Arial, sans-serif" text-rendering="geometricPrecision" font-size="8.2" fill="#131722" stroke="#131722" stroke-width="0.1" textLength="20.35" lengthAdjust="spacingAndGlyphs">21.00</text>
<text x="977.90" y="261.45" font-family="Liberation Sans, Arial, sans-serif" text-rendering="geometricPrecision" font-size="8.2" fill="#131722" stroke="#131722" stroke-width="0.1" textLength="20.35" lengthAdjust="spacingAndGlyphs">22.00</text>
<text x="977.90" y="236.70" font-family="Liberation Sans, Arial, sans-serif" text-rendering="geometricPrecision" font-size="8.2" fill="#131722" stroke="#131722" stroke-width="0.1" textLength="20.35" lengthAdjust="spacingAndGlyphs">23.00</text>
<text x="977.90" y="213.85" font-family="Liberation Sans, Arial, sans-serif" text-rendering="geometricPrecision" font-size="8.2" fill="#131722" stroke="#131722" stroke-width="0.1" textLength="20.35" lengthAdjust="spacingAndGlyphs">24.00</text>
<text x="977.90" y="190.05" font-family="Liberation Sans, Arial, sans-serif" text-rendering="geometricPrecision" font-size="8.2" fill="#131722" stroke="#131722" stroke-width="0.1" textLength="20.35" lengthAdjust="spacingAndGlyphs">25.00</text>
<text x="977.90" y="166.25" font-family="Liberation Sans, Arial, sans-serif" text-rendering="geometricPrecision" font-size="8.2" fill="#131722" stroke="#131722" stroke-width="0.1" textLength="20.35" lengthAdjust="spacingAndGlyphs">26.00</text>
<text x="977.90" y="142.45" font-family="Liberation Sans, Arial, sans-serif" text-rendering="geometricPrecision" font-size="8.2" fill="#131722" stroke="#131722" stroke-width="0.1" textLength="20.35" lengthAdjust="spacingAndGlyphs">27.00</text>
<text x="977.90" y="118.65" font-family="Liberation Sans, Arial, sans-serif" text-rendering="geometricPrecision" font-size="8.2" fill="#131722" stroke="#131722" stroke-width="0.1" textLength="20.35" lengthAdjust="spacingAndGlyphs">28.00</text>
<text x="977.90" y="94.85" font-family="Liberation Sans, Arial, sans-serif" text-rendering="geometricPrecision" font-size="8.2" fill="#131722" stroke="#131722" stroke-width="0.1" textLength="20.35" lengthAdjust="spacingAndGlyphs">29.00</text>
<text x="977.90" y="71.05" font-family="Liberation Sans, Arial, sans-serif" text-rendering="geometricPrecision" font-size="8.2" fill="#131722" stroke="#131722" stroke-width="0.1" textLength="20.35" lengthAdjust="spacingAndGlyphs">30.00</text>
<text x="977.90" y="47.25" font-family="Liberation Sans, Arial, sans-serif" text-rendering="geometricPrecision" font-size="8.2" fill="#131722" stroke="#131722" stroke-width="0.1" textLength="20.35" lengthAdjust="spacingAndGlyphs">31.00</text>
<text x="977.90" y="23.45" font-family="Liberation Sans, Arial, sans-serif" text-rendering="geometricPrecision" font-size="8.2" fill="#131722" stroke="#131722" stroke-width="0.1" textLength="20.35" lengthAdjust="spacingAndGlyphs">32.00</text>
</g>
<text x="24.98" y="415.20" font-family="Liberation Sans, Arial, sans-serif" text-rendering="geometricPrecision" font-size="8.2" fill="#131722" stroke="#131722" stroke-width="0.1" textLength="14.75" lengthAdjust="spacingAndGlyphs">May</text>
<text x="107.69" y="415.20" font-family="Liberation Sans, Arial, sans-serif" text-rendering="geometricPrecision" font-size="8.2" fill="#131722" stroke="#131722" stroke-width="0.1" textLength="13.00" lengthAdjust="spacingAndGlyphs">Jun</text>
<text x="179.37" y="415.20" font-family="Liberation Sans, Arial, sans-serif" text-rendering="geometricPrecision" font-size="8.2" fill="#131722" stroke="#131722" stroke-width="0.1" textLength="11.00" lengthAdjust="spacingAndGlyphs">Jul</text>
<text x="259.96" y="415.20" font-family="Liberation Sans, Arial, sans-serif" text-rendering="geometricPrecision" font-size="8.2" fill="#131722" stroke="#131722" stroke-width="0.1" textLength="13.50" lengthAdjust="spacingAndGlyphs">Aug</text>
<text x="341.68" y="415.20" font-family="Liberation Sans, Arial, sans-serif" text-rendering="geometricPrecision" font-size="8.2" fill="#131722" stroke="#131722" stroke-width="0.1" textLength="13.75" lengthAdjust="spacingAndGlyphs">Sep</text>
<text x="416.70" y="415.20" font-family="Liberation Sans, Arial, sans-serif" text-rendering="geometricPrecision" font-size="8.2" fill="#131722" stroke="#131722" stroke-width="0.1" textLength="12.50" lengthAdjust="spacingAndGlyphs">Oct</text>
<text x="501.64" y="415.20" font-family="Liberation Sans, Arial, sans-serif" text-rendering="geometricPrecision" font-size="8.2" fill="#131722" stroke="#131722" stroke-width="0.1" textLength="13.75" lengthAdjust="spacingAndGlyphs">Nov</text>
<text x="576.04" y="415.20" font-family="Liberation Sans, Arial, sans-serif" text-rendering="geometricPrecision" font-size="8.2" fill="#131722" stroke="#131722" stroke-width="0.1" textLength="13.75" lengthAdjust="spacingAndGlyphs">Dec</text>
<text x="651.41" y="415.20" font-family="Liberation Sans, Arial, sans-serif" text-rendering="geometricPrecision" font-size="8.2" font-weight="bold" fill="#131722" stroke="#131722" stroke-width="0.1" textLength="19.25" lengthAdjust="spacingAndGlyphs">2025</text>
<text x="728.81" y="415.20" font-family="Liberation Sans, Arial, sans-serif" text-rendering="geometricPrecision" font-size="8.2" fill="#131722" stroke="#131722" stroke-width="0.1" textLength="13.25" lengthAdjust="spacingAndGlyphs">Feb</text>
<text x="799.49" y="415.20" font-family="Liberation Sans, Arial, sans-serif" text-rendering="geometricPrecision" font-size="8.2" fill="#131722" stroke="#131722" stroke-width="0.1" textLength="13.25" lengthAdjust="spacingAndGlyphs">Mar</text>
<text x="877.86" y="415.20" font-family="Liberation Sans, Arial, sans-serif" text-rendering="geometricPrecision" font-size="8.2" fill="#131722" stroke="#131722" stroke-width="0.1" textLength="12.75" lengthAdjust="spacingAndGlyphs">Apr</text>
<text x="955.10" y="415.20" font-family="Liberation Sans, Arial, sans-serif" text-rendering="geometricPrecision" font-size="8.2" fill="#131722" stroke="#131722" stroke-width="0.1" textLength="14.50" lengthAdjust="spacingAndGlyphs">May</text>
<rect x="944.5" y="235" width="58" height="11.5" rx="1.3" fill="#f23645"/>
<path d="M971.4 235V246.5" stroke="#fff" stroke-width="0.5" opacity="0.6"/>
<text x="947.60" y="243.70" font-family="Liberation Sans, Arial, sans-serif" text-rendering="geometricPrecision" font-size="8.2" fill="#fff" stroke="#fff" stroke-width="0.1" textLength="20.60" lengthAdjust="spacingAndGlyphs">AROC</text>
<text x="977.90" y="243.70" font-family="Liberation Sans, Arial, sans-serif" text-rendering="geometricPrecision" font-size="8.2" fill="#fff" stroke="#fff" stroke-width="0.1" textLength="20.60" lengthAdjust="spacingAndGlyphs">22.76</text>
<rect x="972" y="385.3" width="40.9" height="11.6" rx="1.3" fill="#ef5350"/>
<text x="977.90" y="394.00" font-family="Liberation Sans, Arial, sans-serif" text-rendering="geometricPrecision" font-size="8.2" fill="#fff" stroke="#fff" stroke-width="0.1" textLength="31.20" lengthAdjust="spacingAndGlyphs">945.27 K</text>
<g fill="#131722"><path d="M7.1 431.1h5.65v6.8h-2.9v-4.1h-2.75z"/><circle cx="14.25" cy="432.4" r="1.3"/><path d="M16.9 431.1h3.9l-2.3 6.8h-3.6z"/></g>
<text x="24.50" y="437.70" font-family="Liberation Sans, Arial, sans-serif" text-rendering="geometricPrecision" font-size="8.6" fill="#30343f" stroke="#30343f" stroke-width="0.1" textLength="48.60" lengthAdjust="spacingAndGlyphs">TradingView</text>
</svg>
</body></html>
